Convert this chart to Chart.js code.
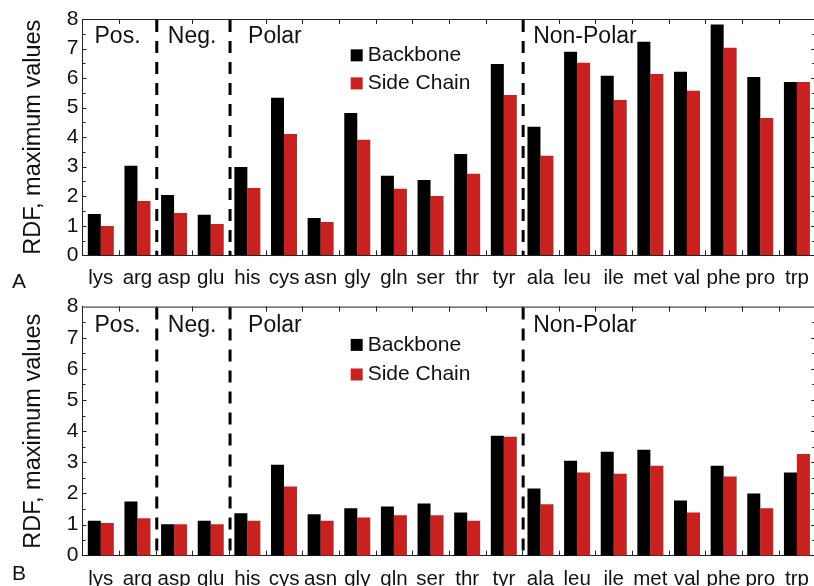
<!DOCTYPE html>
<html>
<head>
<meta charset="utf-8">
<script src="https://cdn.jsdelivr.net/npm/chart.js@4.4.0/dist/chart.umd.min.js"></script>
<style>
  html, body { margin: 0; padding: 0; background: #fff; width: 814px; height: 586px; overflow: hidden; }
  .panel { position: absolute; left: 0; }
  #wrapA { top: 0; }
  #wrapB { top: 290px; }
</style>
</head>
<body>
<div class="panel" id="wrapA"><canvas id="chartA" width="820" height="290"></canvas></div>
<div class="panel" id="wrapB"><canvas id="chartB" width="820" height="296"></canvas></div>
<script>
// amino acids, grouped Pos. / Neg. / Polar / Non-Polar
const categories = ["lys", "arg", "asp", "glu", "his", "cys", "asn", "gly", "gln", "ser",
                    "thr", "tyr", "ala", "leu", "ile", "met", "val", "phe", "pro", "trp"];

// panel A
const backboneA  = [1.40, 3.03, 2.04, 1.37, 2.99, 5.33, 1.26, 4.82, 2.69, 2.55,
                    3.43, 6.48, 4.35, 6.89, 6.08, 7.23, 6.21, 7.81, 6.04, 5.87];
const sideChainA = [0.99, 1.84, 1.43, 1.06, 2.28, 4.11, 1.13, 3.91, 2.25, 2.01,
                    2.76, 5.43, 3.37, 6.52, 5.26, 6.14, 5.57, 7.03, 4.65, 5.87];

// panel B
const backboneB  = [1.12, 1.74, 1.01, 1.12, 1.36, 2.92, 1.33, 1.52, 1.58, 1.68,
                    1.39, 3.85, 2.16, 3.05, 3.34, 3.40, 1.77, 2.89, 2.00, 2.67];
const sideChainB = [1.05, 1.20, 1.01, 1.01, 1.12, 2.22, 1.12, 1.23, 1.30, 1.30,
                    1.12, 3.82, 1.65, 2.67, 2.63, 2.89, 1.39, 2.54, 1.52, 3.27];

const groupLabels = ["Pos.", "Neg.", "Polar", "Non-Polar"];
const groupStarts = [0, 2, 4, 12];

const BLACK = "#000000";
const RED = "#c8211f";
const AXIS = "#222222";
const FONT = "'Liberation Sans', Arial, sans-serif";

Chart.defaults.font.family = FONT;
Chart.defaults.color = "#111";

// ticks, frame, separators, group names, legend and panel letter
const decor = {
  id: "decor",
  afterDraw(chart, args, o) {
    const { ctx, chartArea: a, scales: { x, y } } = chart;
    ctx.save();

    ctx.strokeStyle = AXIS;
    ctx.lineWidth = 1;
    ctx.beginPath();
    ctx.moveTo(a.left, a.top + 0.5); ctx.lineTo(a.right, a.top + 0.5);
    ctx.moveTo(a.right - 0.5, a.top); ctx.lineTo(a.right - 0.5, a.bottom);
    for (let v = 0.5; v < 8; v += 0.5) {
      const py = Math.round(y.getPixelForValue(v)) + 0.5;
      const len = v % 1 === 0 ? 4 : 3;
      ctx.moveTo(a.left, py); ctx.lineTo(a.left + len, py);
      ctx.moveTo(a.right, py); ctx.lineTo(a.right - len, py);
    }
    for (let i = 1; i < categories.length; i++) {
      const px = Math.round(x.getPixelForValue(i - 0.5)) + 0.5;
      ctx.moveTo(px, a.bottom); ctx.lineTo(px, a.bottom - 5);
      ctx.moveTo(px, a.top); ctx.lineTo(px, a.top + 5);
    }
    ctx.stroke();

    // dashed separators between groups
    ctx.strokeStyle = BLACK;
    ctx.lineWidth = 3;
    ctx.setLineDash([12, 9]);
    ctx.beginPath();
    groupStarts.slice(1).forEach(g => {
      const px = x.getPixelForValue(g - 0.5) + 1;
      ctx.moveTo(px, a.top + 1); ctx.lineTo(px, a.bottom);
    });
    ctx.stroke();
    ctx.setLineDash([]);

    // group names
    ctx.fillStyle = "#111";
    ctx.font = "23px " + FONT;
    ctx.textBaseline = "middle";
    ctx.textAlign = "left";
    const gy = y.getPixelForValue(7.4);
    groupLabels.forEach((t, k) => {
      const px = x.getPixelForValue(groupStarts[k] - 0.5) + o.groupOffsets[k];
      ctx.fillText(t, px, gy);
    });

    // legend
    ctx.font = "21px " + FONT;
    const lx = x.getPixelForValue(6.82);
    chart.data.datasets.forEach((ds, k) => {
      const ly = y.getPixelForValue(o.legendY[k]);
      ctx.fillStyle = ds.backgroundColor;
      ctx.fillRect(lx, ly - 6, 12, 12);
      ctx.fillStyle = "#111";
      ctx.fillText(ds.label, lx + 17, ly);
    });

    // panel letter
    ctx.font = "21px " + FONT;
    ctx.fillText(o.letter, 12, o.letterY);

    ctx.restore();
  }
};

function makeChart(id, backbone, sideChain, padTop, axisHeight, letter, letterY) {
  return new Chart(document.getElementById(id), {
    type: "bar",
    data: {
      labels: categories,
      datasets: [
        { label: "Backbone", data: backbone, backgroundColor: BLACK },
        { label: "Side Chain", data: sideChain, backgroundColor: RED }
      ]
    },
    options: {
      responsive: false,
      animation: false,
      layout: { padding: { top: padTop, right: 4.6, left: 0, bottom: 0 } },
      datasets: { bar: { categoryPercentage: 0.71, barPercentage: 1.0 } },
      plugins: {
        legend: { display: false },
        tooltip: { enabled: false },
        decor: { groupOffsets: [12, 12, 19, 11], legendY: [6.77, 5.82], letter: letter, letterY: letterY }
      },
      scales: {
        x: {
          grid: { display: false, drawTicks: false },
          border: { display: true, color: AXIS, width: 1 },
          ticks: { font: { size: 20.5 }, padding: 11, autoSkip: false, maxRotation: 0, color: "#111" },
          afterFit(scale) { scale.height = axisHeight; }
        },
        y: {
          min: 0,
          max: 8,
          grid: { display: false, drawTicks: false },
          border: { display: true, color: AXIS, width: 1 },
          ticks: { stepSize: 1, font: { size: 21 }, padding: 4, color: "#111" },
          title: {
            display: true,
            text: "RDF, maximum values",
            font: { size: 23.5 },
            color: "#111",
            padding: { top: 19, bottom: 0 }
          },
          afterFit(scale) { scale.width = 82.5; }
        }
      }
    },
    plugins: [decor]
  });
}

makeChart("chartA", backboneA, sideChainA, 19, 34.7, "A", 282);
makeChart("chartB", backboneB, sideChainB, 14.7, 30.3, "B", 284);
</script>
</body>
</html>
